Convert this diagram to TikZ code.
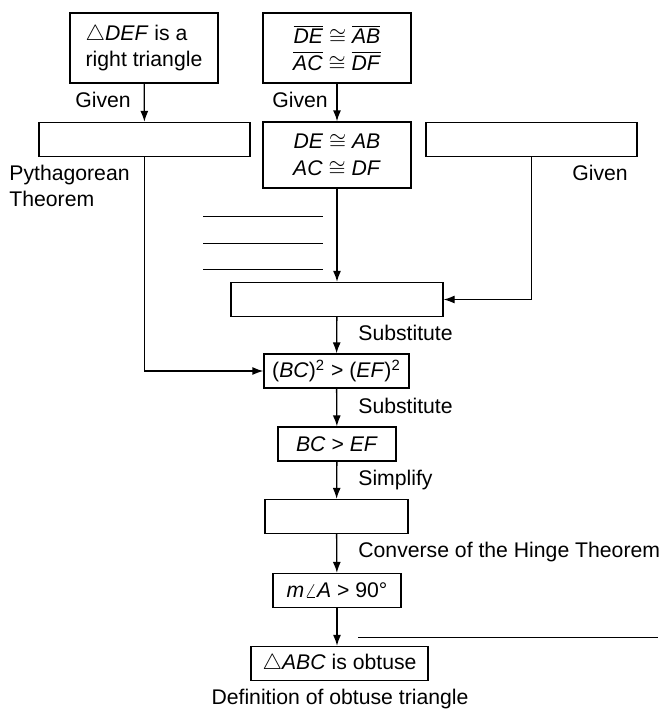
\documentclass[tikz,border=0pt]{standalone}
\usepackage{fontspec}
\setmainfont{Liberation Sans}
\usepackage{tikz}
\usetikzlibrary{arrows.meta,positioning}
\newcommand{\segbar}[1]{$\overline{\mbox{\textit{#1}}}$}

\begin{document}
\begin{tikzpicture}[x=0.5pt, y=-0.5pt,
  font=\fontsize{10.6}{13.3}\selectfont,
  box/.style={draw, line width=0.65pt, inner sep=0pt, minimum height=17pt},
  reason/.style={anchor=west, inner sep=0pt},
  flow/.style={-{Latex[length=5.5pt,width=4pt]}, line width=0.65pt},
  blank/.style={line width=0.5pt}]
  \useasboundingbox (0,0) rectangle (663,709);
  % first row
  \node[box, minimum width=74pt, minimum height=35pt, align=left] (def) at (144,48)
    {$\triangle$\textit{DEF} is a\\right triangle};
  \node[box, minimum width=74pt, minimum height=35pt, align=center] (seg) at (337,48)
    {\segbar{DE} $\cong$ \segbar{AB}\\\segbar{AC} $\cong$ \segbar{DF}};
  \node[reason] (given1) at (75,100) {Given};
  \node[reason] (given2) at (272,100) {Given};
  % second row
  \node[box, minimum width=105.5pt] (pyth) at (144.5,139.5) {};
  \node[box, minimum width=74pt, minimum height=33pt, align=center] (cong) at (337,155)
    {\textit{DE} $\cong$ \textit{AB}\\\textit{AC} $\cong$ \textit{DF}};
  \node[box, minimum width=105.5pt] (right) at (531.5,139.5) {};
  \node[reason, align=left] (pythlbl) at (9,186) {Pythagorean\\Theorem};
  \node[reason] (given3) at (572,173) {Given};
  % blanks for the missing reasons
  \draw[blank] (203,216) -- (323,216);
  \draw[blank] (203,243) -- (323,243);
  \draw[blank] (203,269) -- (323,269);
  % chain down the middle
  \node[box, minimum width=106pt] (sub) at (337,299.5) {};
  \node[box, minimum width=72.5pt] (sq) at (336.5,371)
    {(\textit{BC})\textsuperscript{2} > (\textit{EF})\textsuperscript{2}};
  \node[box, minimum width=59pt] (lin) at (337,444) {\textit{BC} > \textit{EF}};
  \node[box, minimum width=71.5pt] (hinge) at (336.5,516.5) {};
  \node[box, minimum width=64pt] (ang) at (337,590.5) {\textit{m}$\angle$\textit{A} > 90°};
  \node[box, minimum width=88.5pt] (obt) at (339.5,663.5) {$\triangle$\textit{ABC} is obtuse};
  \node[reason] (subst1) at (358,333) {Substitute};
  \node[reason] (subst2) at (358,406) {Substitute};
  \node[reason] (simp) at (358,480) {Simplify};
  \node[reason] (conv) at (358,552) {Converse of the Hinge Theorem};
  \node[inner sep=0pt] (defn) at (340,699) {Definition of obtuse triangle};
  \draw[blank] (358,637) -- (658,637);
  % connectors
  \draw[flow] (def) -- (pyth);
  \draw[flow] (seg) -- (cong);
  \draw[flow] (cong) -- (sub);
  \draw[flow] (right.south) |- (sub.east);
  \draw[flow] (pyth.south) |- (sq.west);
  \draw[flow] (sub) -- (sq);
  \draw[flow] (sq) -- (lin);
  \draw[flow] (lin) -- (hinge);
  \draw[flow] (hinge) -- (ang);
  \draw[flow] (ang.south) -- (ang.south |- obt.north);
\end{tikzpicture}
\end{document}
